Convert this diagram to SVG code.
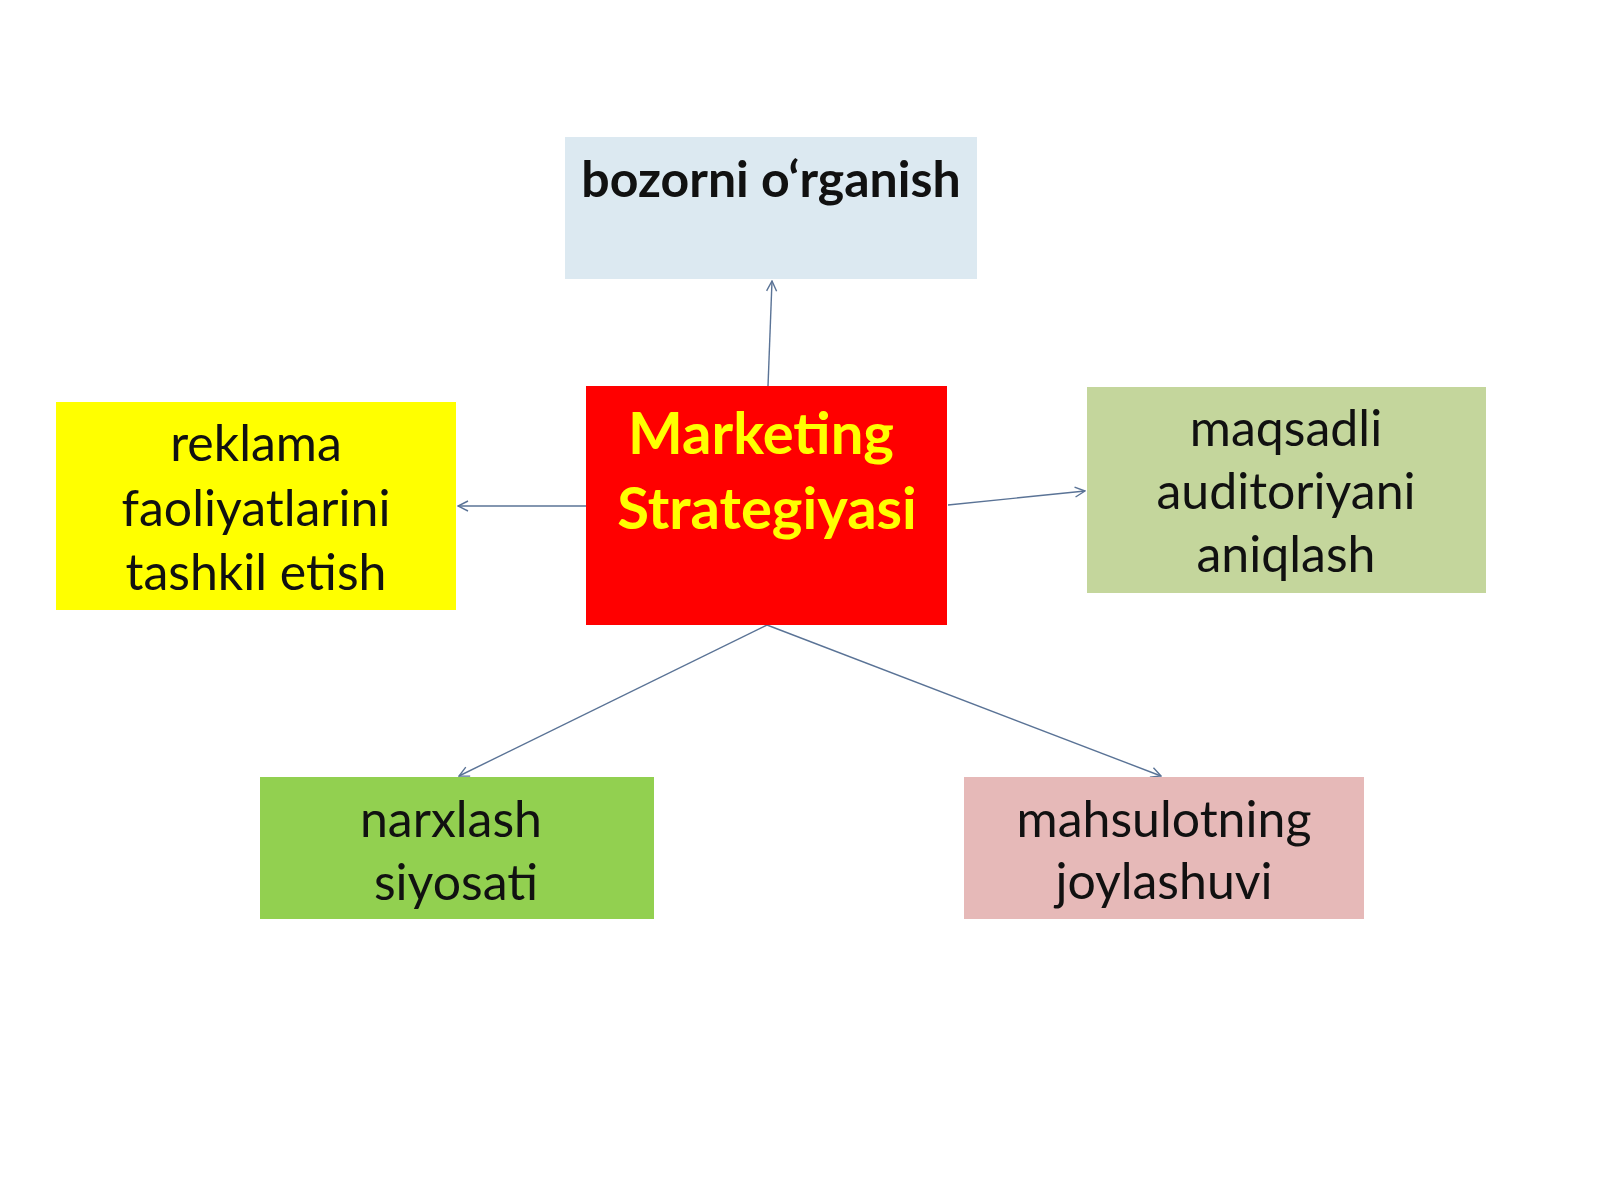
<svg xmlns="http://www.w3.org/2000/svg" width="1600" height="1200" viewBox="0 0 1600 1200">
<style>
.t{font-family:Lato,"Liberation Sans",sans-serif;font-size:50px;fill:#111;text-anchor:middle}
.b{font-weight:bold}
.y{fill:#FFFF00;font-size:58px;font-weight:bold}
.c{fill:none;stroke:#5A7396;stroke-width:1.4}
</style>
<defs>
<marker id="ar" viewBox="0 0 12 12" refX="11" refY="6" markerWidth="12" markerHeight="12" markerUnits="userSpaceOnUse" orient="auto">
<path d="M1,1 L11,6 L1,11" fill="none" stroke="#5A7396" stroke-width="1.4"/>
</marker>
</defs>
<rect width="1600" height="1200" fill="#FFFFFF"/>
<g id="connectors">
<line class="c" x1="768" y1="386" x2="772" y2="281" marker-end="url(#ar)"/>
<line class="c" x1="586" y1="506" x2="458" y2="506" marker-end="url(#ar)"/>
<line class="c" x1="948" y1="505" x2="1085" y2="491" marker-end="url(#ar)"/>
<line class="c" x1="767" y1="625" x2="459" y2="776" marker-end="url(#ar)"/>
<line class="c" x1="767" y1="625" x2="1161" y2="776" marker-end="url(#ar)"/>
</g>
<g id="node-bozorni">
<rect x="565" y="137" width="412" height="142" fill="#DCE9F1"/>
<text class="t b" x="771" y="197" font-size="49.5">bozorni o‘rganish</text>
</g>
<g id="node-marketing">
<rect x="586" y="386" width="361" height="239" fill="#FF0000"/>
<text class="t y" x="761" y="454">Marketing</text>
<text class="t y" x="767" y="529">Strategiyasi</text>
</g>
<g id="node-reklama">
<rect x="56" y="402" width="400" height="208" fill="#FFFF00"/>
<text class="t" x="256" y="461">reklama</text>
<text class="t" x="256" y="526">faoliyatlarini</text>
<text class="t" x="256" y="590">tashkil etish</text>
</g>
<g id="node-maqsadli">
<rect x="1087" y="387" width="399" height="206" fill="#C4D69C"/>
<text class="t" x="1286" y="446">maqsadli</text>
<text class="t" x="1286" y="509">auditoriyani</text>
<text class="t" x="1286" y="572">aniqlash</text>
</g>
<g id="node-narxlash">
<rect x="260" y="777" width="394" height="142" fill="#92D050"/>
<text class="t" x="451" y="837">narxlash</text>
<text class="t" x="456" y="900">siyosati</text>
</g>
<g id="node-mahsulot">
<rect x="964" y="777" width="400" height="142" fill="#E6B9B8"/>
<text class="t" x="1164" y="837">mahsulotning</text>
<text class="t" x="1164" y="899">joylashuvi</text>
</g>
</svg>
